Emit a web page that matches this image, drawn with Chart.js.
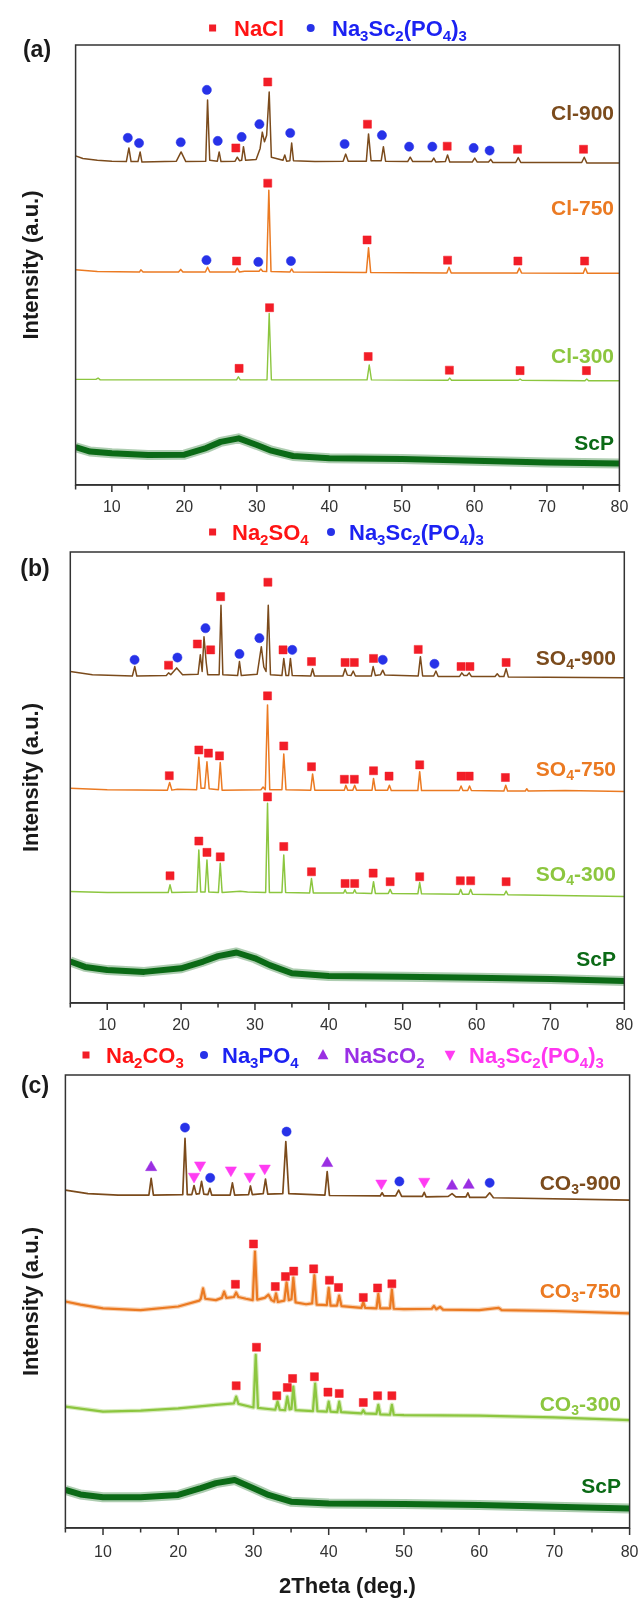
<!DOCTYPE html>
<html><head><meta charset="utf-8">
<script src="https://cdn.jsdelivr.net/npm/chart.js@4.4.1/dist/chart.umd.min.js"></script>
<style>
html,body{margin:0;padding:0;background:#fff;overflow:hidden;width:641px;height:1598px;position:relative;}
canvas{position:absolute;left:0;}
</style></head><body>
<canvas id="ca" width="641" height="520" style="top:0px"></canvas>
<canvas id="cb" width="641" height="520" style="top:520px"></canvas>
<canvas id="cc" width="641" height="558" style="top:1040px"></canvas>
<script>
// ---------- axis ----------
const X_MIN = 5, X_MAX = 80;
const X_TICK_LABELS = [10, 20, 30, 40, 50, 60, 70, 80];
const X_MINOR_TICKS = [5, 15, 25, 35, 45, 55, 65, 75];

// ---------- panel (a) : [2theta, intensity (a.u., stacked)] ----------
const cl900 = [[5,74.8],[6,74.2],[8,73.8],[10,73.6],[12.0,73.5],[12.35,76.6],[12.65,73.5],[13.6,73.5],[13.9,75.7],[14.15,73.4],[18.9,73.6],[19.55,75.7],[20.2,73.5],[22.95,73.6],[23.2,87.5],[23.5,73.8],[24.55,73.6],[24.8,75.7],[25.05,73.5],[27.0,73.6],[27.3,74.5],[27.6,73.7],[27.9,73.8],[28.15,76.9],[28.45,73.8],[29.9,74.0],[30.45,76.5],[30.75,80.2],[31.05,78.0],[31.35,79.5],[31.7,89.3],[32.0,74.5],[33.6,73.8],[33.85,75.0],[34.1,73.6],[34.55,73.7],[34.8,77.7],[35.05,73.7],[38,73.5],[41.9,73.6],[42.25,75.2],[42.6,73.6],[45.1,73.6],[45.4,79.8],[45.75,73.7],[47.15,73.7],[47.45,76.9],[47.75,73.6],[50.8,73.5],[51.15,74.5],[51.5,73.5],[54.1,73.5],[54.4,74.3],[54.7,73.4],[56.0,73.5],[56.3,75.0],[56.6,73.4],[59.7,73.4],[60.05,74.3],[60.4,73.4],[61.95,73.4],[62.25,74.0],[62.55,73.3],[65.7,73.3],[66.05,74.4],[66.4,73.3],[74.8,73.3],[75.15,74.5],[75.5,73.2],[80,73.2]];
const cl900_NaCl = [[27.1,76.6],[31.5,91.6],[45.25,82.0],[56.25,77.0],[65.95,76.3],[75.05,76.3]];
const cl900_NSP = [[12.2,78.9],[13.75,77.7],[19.5,77.9],[23.1,89.8],[24.6,78.2],[27.9,79.1],[30.35,82.0],[34.6,80.0],[42.1,77.5],[47.25,79.5],[51.0,76.9],[54.2,76.9],[59.9,76.6],[62.1,76.0]];

const cl750 = [[5,48.9],[8,48.5],[13.8,48.4],[14.0,48.9],[14.3,48.4],[19.2,48.4],[19.5,49.0],[19.8,48.4],[22.9,48.4],[23.2,49.5],[23.5,48.4],[27.0,48.4],[27.3,49.3],[27.6,48.4],[28.3,48.6],[30.3,48.6],[30.55,49.1],[30.8,48.6],[31.35,48.5],[31.65,67.0],[31.95,48.5],[34.55,48.4],[34.8,49.1],[35.05,48.4],[45.1,48.3],[45.4,53.9],[45.7,48.3],[56.2,48.2],[56.5,49.5],[56.8,48.2],[65.9,48.2],[66.2,49.3],[66.5,48.2],[75.0,48.1],[75.3,49.3],[75.6,48.1],[80,48.1]];
const cl750_NaCl = [[27.2,50.9],[31.5,68.6],[45.2,55.7],[56.3,51.1],[66.0,50.9],[75.2,50.9]];
const cl750_NSP = [[23.05,51.1],[30.2,50.7],[34.7,50.9]];

const cl300 = [[5,24.0],[7.8,24.0],[8.1,24.3],[8.4,23.9],[27.2,23.9],[27.45,24.6],[27.7,23.9],[31.4,23.9],[31.7,39.0],[32.0,23.9],[45.2,23.9],[45.5,27.3],[45.8,23.9],[56.35,23.8],[56.6,24.3],[56.85,23.8],[66.05,23.8],[66.3,24.1],[66.55,23.8],[75.25,23.7],[75.5,24.1],[75.75,23.7],[80,23.7]];
const cl300_NaCl = [[27.55,26.5],[31.75,40.3],[45.35,29.2],[56.55,26.1],[66.3,26.0],[75.45,26.0]];

const scpA = [[5,8.6],[7,7.6],[10,7.2],[15,6.8],[20,6.9],[23,8.4],[25,9.8],[27.5,10.6],[30,9.1],[32,7.8],[35,6.6],[40,6.1],[50,5.9],[60,5.5],[70,5.1],[80,4.9]];

// ---------- panel (b) ----------
const so900 = [[5,73.5],[8,72.8],[13.4,72.5],[13.73,74.6],[14.0,72.5],[18.0,72.6],[18.3,73.2],[18.6,72.8],[19.4,74.3],[20.2,72.8],[22.3,72.9],[22.6,77.2],[22.85,73.5],[23.1,81.2],[23.4,75.5],[23.6,72.8],[25.15,72.8],[25.4,88.2],[25.65,72.8],[27.65,72.6],[27.9,75.7],[28.15,72.6],[30.3,72.9],[30.86,79.0],[31.2,74.5],[31.5,73.5],[31.8,88.2],[32.1,72.8],[33.65,72.6],[33.9,76.4],[34.2,72.6],[34.55,72.6],[34.8,76.4],[35.05,72.6],[37.55,72.5],[37.8,74.1],[38.05,72.5],[41.9,72.5],[42.2,74.1],[42.5,72.7],[43.0,72.6],[43.3,73.6],[43.6,72.5],[45.75,72.5],[46.0,74.6],[46.3,72.6],[47.0,72.8],[47.3,73.8],[47.6,72.7],[52.1,72.5],[52.4,76.8],[52.7,72.5],[54.2,72.5],[54.5,73.6],[54.8,72.4],[57.7,72.4],[58.0,73.2],[58.3,72.6],[58.7,72.6],[59.0,73.2],[59.3,72.4],[62.5,72.4],[62.8,73.0],[63.1,72.4],[63.7,72.4],[64.0,74.1],[64.3,72.3],[80,72.1]];
const so900_Na2SO4 = [[18.3,74.9],[22.2,79.6],[24.0,78.3],[25.35,90.1],[31.75,93.3],[33.8,78.3],[37.65,75.7],[42.2,75.5],[43.45,75.5],[46.05,76.4],[52.1,78.4],[57.9,74.6],[59.1,74.6],[64.0,75.5]];
const so900_NSP = [[13.7,76.1],[19.5,76.6],[23.3,83.1],[27.9,77.4],[30.6,80.9],[35.05,78.3],[47.3,76.1],[54.3,75.2]];

const so750 = [[5,47.6],[10,47.3],[18.15,47.2],[18.45,48.9],[18.75,47.2],[19.5,47.4],[22.1,47.3],[22.4,54.5],[22.7,47.6],[23.2,47.6],[23.5,53.5],[23.8,47.5],[25.05,47.3],[25.3,53.3],[25.55,47.2],[30.8,47.3],[31.1,47.9],[31.4,47.3],[31.7,66.1],[32.0,47.3],[33.65,47.3],[33.9,55.2],[34.2,47.3],[37.55,47.2],[37.8,50.8],[38.1,47.2],[42.1,47.2],[42.3,48.3],[42.55,47.2],[43.25,47.2],[43.5,48.3],[43.75,47.2],[45.85,47.2],[46.05,49.8],[46.3,47.2],[47.95,47.2],[48.2,48.3],[48.45,47.1],[52.05,47.1],[52.3,51.3],[52.55,47.1],[57.65,47.1],[57.9,48.1],[58.15,47.1],[58.8,47.1],[59.05,48.1],[59.3,47.1],[63.7,47.0],[63.95,48.3],[64.2,47.0],[66.6,47.0],[66.8,47.5],[67.0,47.0],[72,47.1],[80,46.9]];
const so750_Na2SO4 = [[18.4,50.4],[22.4,56.1],[23.7,55.4],[25.2,54.8],[31.7,68.1],[33.9,57.0],[37.65,52.4],[42.1,49.6],[43.45,49.6],[46.05,51.5],[48.15,50.3],[52.3,52.8],[57.9,50.3],[59.0,50.3],[63.9,50.0]];

const so300 = [[5,24.7],[10,24.5],[18.25,24.5],[18.5,26.2],[18.75,24.5],[22.15,24.6],[22.4,33.9],[22.65,24.6],[23.25,24.6],[23.5,31.7],[23.75,24.6],[25.05,24.5],[25.3,31.0],[25.55,24.5],[28,24.8],[29,24.6],[31.45,24.5],[31.7,44.3],[31.95,24.5],[33.65,24.5],[33.9,32.8],[34.15,24.5],[37.4,24.4],[37.65,27.6],[37.9,24.4],[42.0,24.4],[42.2,25.1],[42.4,24.4],[43.3,24.4],[43.5,25.1],[43.7,24.4],[45.8,24.3],[46.05,26.9],[46.3,24.3],[48.05,24.3],[48.3,25.2],[48.55,24.3],[52.05,24.2],[52.3,26.7],[52.55,24.2],[57.6,24.1],[57.85,25.2],[58.1,24.1],[58.95,24.1],[59.2,25.2],[59.45,24.1],[63.75,24.0],[64.0,24.8],[64.25,24.0],[80,23.6]];
const so300_Na2SO4 = [[18.5,28.2],[22.4,35.9],[23.5,33.4],[25.3,32.4],[31.7,45.7],[33.9,34.7],[37.65,29.1],[42.2,26.5],[43.5,26.5],[46.0,28.8],[48.3,26.9],[52.3,28.0],[57.8,27.1],[59.2,27.1],[64.0,26.9]];

const scpB = [[5,9.2],[7,8.0],[10,7.3],[15,6.9],[20,7.7],[23,9.2],[25,10.4],[27.5,11.2],[30,9.9],[32,8.4],[35,6.6],[40,6.0],[50,5.8],[60,5.6],[70,5.3],[80,4.9]];

// ---------- panel (c) ----------
const co900 = [[5,74.6],[8,73.8],[12,73.5],[16.1,73.5],[16.4,77.2],[16.7,73.5],[20.6,73.6],[20.9,86.0],[21.2,73.6],[21.8,73.6],[22.1,75.6],[22.4,73.7],[22.8,73.8],[23.1,76.5],[23.4,73.7],[23.95,73.6],[24.2,75.0],[24.45,73.5],[26.9,73.5],[27.2,76.2],[27.5,73.5],[29.35,73.6],[29.6,75.5],[29.85,73.6],[31.3,73.8],[31.6,77.0],[31.9,73.7],[33.9,73.8],[34.3,85.3],[34.7,73.8],[39.5,73.5],[39.8,78.7],[40.1,73.4],[46.85,73.3],[47.1,74.0],[47.35,73.3],[48.9,73.3],[49.3,74.6],[49.7,73.2],[52.45,73.2],[52.7,74.1],[52.95,73.1],[55.9,73.2],[56.4,73.8],[56.9,73.1],[58.25,73.1],[58.5,74.0],[58.75,73.0],[60.9,73.0],[61.4,74.0],[61.9,72.9],[80,72.4]];
const co900_Na3PO4 = [[20.9,88.4],[24.25,77.3],[34.4,87.5],[49.4,76.5],[61.4,76.2]];
const co900_NaScO2 = [[16.4,79.6],[39.8,80.5],[56.4,75.5],[58.6,75.7]];
const co900_NSP = [[22.1,77.6],[22.9,80.1],[27.0,79.0],[29.5,77.6],[31.5,79.4],[47.0,76.1],[52.7,76.5]];

const co750 = [[5,50.0],[7,49.3],[10,48.5],[15,48.1],[20,48.9],[22.8,50.2],[23.0,50.6],[23.3,52.9],[23.6,50.6],[25,50.3],[25.8,50.8],[26.1,52.2],[26.4,50.8],[27.4,51.0],[27.7,52.0],[28.0,51.0],[29.0,50.6],[29.9,50.3],[30.2,61.0],[30.5,50.4],[31.5,50.8],[32.0,51.5],[32.4,50.3],[32.75,50.0],[33.0,51.8],[33.25,49.9],[34.1,50.2],[34.4,54.2],[34.7,50.3],[35.05,50.5],[35.3,55.3],[35.6,49.8],[37.0,49.4],[37.8,49.6],[38.1,55.8],[38.4,49.3],[39.75,49.2],[40.0,53.0],[40.25,49.1],[41.1,49.1],[41.4,51.3],[41.7,49.0],[44.35,48.6],[44.6,49.9],[44.85,48.6],[46.35,48.5],[46.6,51.7],[46.85,48.5],[48.15,48.5],[48.4,52.6],[48.65,48.4],[50,48.3],[53.7,48.4],[54.0,49.0],[54.3,48.3],[54.8,48.8],[55.2,48.2],[60,48.1],[62.6,48.6],[63,48.1],[70,47.9],[80,47.4]];
const co750_Na2CO3 = [[27.6,53.8],[30.0,62.7],[32.9,53.3],[34.25,55.5],[35.35,56.7],[38.0,57.2],[40.1,54.7],[41.3,53.1],[44.6,50.9],[46.5,53.0],[48.4,53.9]];

const co300 = [[5,26.8],[10,25.7],[15,25.9],[20,26.4],[25,27.2],[27.4,27.5],[27.7,29.0],[28.0,27.4],[30.0,26.6],[30.3,38.2],[30.6,26.5],[32.9,26.1],[33.2,27.9],[33.5,26.1],[34.2,26.0],[34.5,29.0],[34.8,26.2],[35.05,26.3],[35.3,31.2],[35.6,26.0],[37.9,25.8],[38.2,31.9],[38.5,25.8],[39.75,25.7],[40.0,27.9],[40.25,25.7],[41.15,25.6],[41.4,27.9],[41.65,25.6],[44.35,25.3],[44.6,26.0],[44.85,25.3],[46.35,25.2],[46.6,27.2],[46.85,25.1],[48.15,25.0],[48.4,27.2],[48.65,25.0],[50,24.9],[60,24.8],[70,24.4],[80,23.8]];
const co300_Na2CO3 = [[27.7,31.4],[30.4,39.9],[33.1,29.2],[34.5,31.0],[35.2,33.0],[38.1,33.4],[39.9,30.0],[41.4,29.7],[44.6,27.7],[46.5,29.2],[48.4,29.2]];

const scpC = [[5,8.4],[7,7.4],[10,6.8],[15,6.8],[20,7.3],[23,8.8],[25,9.9],[27.5,10.6],[30,8.8],[32,7.3],[35,5.8],[40,5.4],[50,5.3],[60,5.1],[70,4.7],[80,4.3]];

// ---------- styling ----------
const FONT = "'Liberation Sans', Arial, Helvetica, sans-serif";
const RED = '#f21d27', BLUE = '#2732e8', PURPLE = '#9a2fe2', MAGENTA = '#ff3cf2';
const RED_T = '#ff1414', BLUE_T = '#1c22f2', PURPLE_T = '#9a2fe6', MAGENTA_T = '#ff36f0';
const BROWN = '#7b4b1c', ORANGE = '#eb7a22', LGREEN = '#8cc63f', DGREEN = '#0b6a16';
const AXIS = '#333333';

function pts(a) { return a.map(p => ({x: p[0], y: p[1]})); }

function tokens(str) {
  const out = [];
  for (let i = 0; i < str.length; i++) {
    if (str[i] === '_') { out.push({t: str[i + 1], sub: true}); i++; }
    else {
      const last = out[out.length - 1];
      if (last && !last.sub) last.t += str[i]; else out.push({t: str[i], sub: false});
    }
  }
  return out;
}
function drawRich(ctx, str, x, y, size, color, align) {
  const tk = tokens(str);
  const subS = Math.round(size * 0.68);
  const fMain = 'bold ' + size + 'px ' + FONT, fSub = 'bold ' + subS + 'px ' + FONT;
  let w = 0;
  tk.forEach(t => { ctx.font = t.sub ? fSub : fMain; t.w = ctx.measureText(t.t).width; w += t.w; });
  let cx = align === 'right' ? x - w : (align === 'center' ? x - w / 2 : x);
  ctx.save();
  ctx.fillStyle = color; ctx.textBaseline = 'alphabetic'; ctx.textAlign = 'left';
  const base = y + size * 0.36;
  tk.forEach(t => { ctx.font = t.sub ? fSub : fMain; ctx.fillText(t.t, cx, t.sub ? base + size * 0.22 : base); cx += t.w; });
  ctx.restore();
}
function drawMarker(ctx, style, x, y, r, color) {
  ctx.save();
  ctx.fillStyle = color;
  ctx.beginPath();
  if (style === 'rect') { ctx.rect(x - r, y - r, 2 * r, 2 * r); }
  else if (style === 'circle') { ctx.arc(x, y, r, 0, Math.PI * 2); }
  else if (style === 'tri') { ctx.moveTo(x, y - r); ctx.lineTo(x + r * 0.9, y + r * 0.7); ctx.lineTo(x - r * 0.9, y + r * 0.7); ctx.closePath(); }
  else if (style === 'triDown') { ctx.moveTo(x, y + r); ctx.lineTo(x + r * 0.9, y - r * 0.7); ctx.lineTo(x - r * 0.9, y - r * 0.7); ctx.closePath(); }
  ctx.fill();
  ctx.restore();
}

function lineDs(data, color, width, order) {
  return {type: 'line', data: pts(data), borderColor: color, borderWidth: width, pointRadius: 0,
          tension: 0, fill: false, order: order || 2, borderJoinStyle: 'round'};
}
// noisy trace: a solid core plus a translucent halo for the ragged noise envelope
function noisyDs(data, color, core, halo) {
  return [lineDs(data, color, core, 2), lineDs(data, color + '55', halo, 3)];
}
function markDs(data, style, color, radius, rotation) {
  return {type: 'line', data: pts(data), showLine: false, pointStyle: style, pointRadius: radius,
          pointRotation: rotation || 0, pointBackgroundColor: color, pointBorderColor: color,
          pointBorderWidth: 0.5, order: 1};
}

function makePanel(id, cfg) {
  const canvas = document.getElementById(id);
  const W = canvas.width, H = canvas.height, A = cfg.area;
  const PADL = 21;
  const deco = {
    id: 'deco' + id,
    afterDraw(chart) {
      const ctx = chart.ctx, ca = chart.chartArea, xs = chart.scales.x;
      ctx.save();
      ctx.strokeStyle = AXIS; ctx.lineWidth = 1.5;
      ctx.strokeRect(ca.left, ca.top, ca.right - ca.left, ca.bottom - ca.top);
      // outward tick marks: long for labelled ticks, short for minor ones
      ctx.beginPath();
      X_TICK_LABELS.forEach(v => { const p = xs.getPixelForValue(v); ctx.moveTo(p, ca.bottom); ctx.lineTo(p, ca.bottom + 7); });
      X_MINOR_TICKS.forEach(v => { const p = xs.getPixelForValue(v); ctx.moveTo(p, ca.bottom); ctx.lineTo(p, ca.bottom + 4.5); });
      ctx.stroke();
      ctx.restore();
      cfg.legend.forEach(it => {
        drawMarker(ctx, it.style, it.mx, cfg.legendY, it.mr, it.mcolor);
        drawRich(ctx, it.text, it.tx, cfg.legendY, 22, it.tcolor, 'left');
      });
      ctx.save();
      ctx.font = 'bold 23px ' + FONT; ctx.fillStyle = '#1a1a1a';
      ctx.textAlign = 'center'; ctx.textBaseline = 'middle';
      ctx.fillText(cfg.letter, cfg.letterX, cfg.letterY);
      ctx.restore();
      cfg.labels.forEach(l => drawRich(ctx, l.text, cfg.labelRight, l.y, 21, l.color, 'right'));
    }
  };
  return new Chart(canvas, {
    type: 'line',
    data: {datasets: cfg.datasets},
    options: {
      responsive: false, animation: false, devicePixelRatio: 1,
      layout: {padding: {left: PADL, right: W - A.right, top: A.top, bottom: 0}},
      plugins: {legend: {display: false}, tooltip: {enabled: false}},
      scales: {
        x: {
          type: 'linear', min: X_MIN, max: X_MAX, position: 'bottom',
          afterFit(s) { s.height = H - A.bottom; s.paddingLeft = 0; s.paddingRight = 0; },
          afterBuildTicks(s) { s.ticks = X_TICK_LABELS.map(v => ({value: v})); },
          ticks: {autoSkip: false, maxRotation: 0, minRotation: 0, padding: cfg.tickPad, color: AXIS,
                  font: {family: FONT, size: 16}},
          grid: {drawOnChartArea: false, drawTicks: false},
          border: {display: true, color: AXIS, width: 1.5},
          title: cfg.xTitle ? {display: true, text: cfg.xTitle, color: '#1a1a1a', padding: 0,
                               font: {family: FONT, size: 22, weight: 'bold', lineHeight: 1}} : {display: false}
        },
        y: {
          type: 'linear', min: 0, max: 100, position: 'left',
          afterFit(s) { s.width = A.left - PADL; s.paddingTop = 0; s.paddingBottom = 0; },
          ticks: {display: false}, grid: {display: false}, border: {display: false},
          title: {display: true, text: 'Intensity (a.u.)', color: '#1a1a1a', padding: 0,
                  font: {family: FONT, size: 22, weight: 'bold', lineHeight: 1}}
        }
      }
    },
    plugins: [deco]
  });
}

makePanel('ca', {
  area: {left: 75.6, right: 619.4, top: 45, bottom: 485},
  tickPad: 13,
  legendY: 28,
  legend: [
    {style: 'rect', mx: 212.6, mr: 3.5, mcolor: RED, text: 'NaCl', tx: 234, tcolor: RED_T},
    {style: 'circle', mx: 310.7, mr: 4, mcolor: BLUE, text: 'Na_3Sc_2(PO_4)_3', tx: 332, tcolor: BLUE_T}
  ],
  letter: '(a)', letterX: 37, letterY: 51,
  labelRight: 614,
  labels: [
    {text: 'Cl-900', y: 112, color: BROWN}, {text: 'Cl-750', y: 207, color: ORANGE},
    {text: 'Cl-300', y: 355, color: LGREEN}, {text: 'ScP', y: 442, color: DGREEN}
  ],
  datasets: [
    markDs(cl900_NaCl, 'rect', RED, 5.7), markDs(cl900_NSP, 'circle', BLUE, 4.6),
    markDs(cl750_NaCl, 'rect', RED, 5.7), markDs(cl750_NSP, 'circle', BLUE, 4.6),
    markDs(cl300_NaCl, 'rect', RED, 5.7),
    lineDs(cl900, BROWN, 1.5), lineDs(cl750, ORANGE, 1.5), lineDs(cl300, LGREEN, 1.4),
    ...noisyDs(scpA, DGREEN, 6, 10)
  ]
});

makePanel('cb', {
  area: {left: 70.3, right: 624.3, top: 32, bottom: 483},
  tickPad: 13,
  legendY: 12,
  legend: [
    {style: 'rect', mx: 212.6, mr: 3.5, mcolor: RED, text: 'Na_2SO_4', tx: 232, tcolor: RED_T},
    {style: 'circle', mx: 331, mr: 4, mcolor: BLUE, text: 'Na_3Sc_2(PO_4)_3', tx: 349, tcolor: BLUE_T}
  ],
  letter: '(b)', letterX: 35, letterY: 50,
  labelRight: 616,
  labels: [
    {text: 'SO_4-900', y: 137, color: BROWN}, {text: 'SO_4-750', y: 248, color: ORANGE},
    {text: 'SO_4-300', y: 353, color: LGREEN}, {text: 'ScP', y: 438, color: DGREEN}
  ],
  datasets: [
    markDs(so900_Na2SO4, 'rect', RED, 5.7), markDs(so900_NSP, 'circle', BLUE, 4.6),
    markDs(so750_Na2SO4, 'rect', RED, 5.7), markDs(so300_Na2SO4, 'rect', RED, 5.7),
    lineDs(so900, BROWN, 1.5), lineDs(so750, ORANGE, 1.5), lineDs(so300, LGREEN, 1.5),
    ...noisyDs(scpB, DGREEN, 6, 10)
  ]
});

makePanel('cc', {
  area: {left: 65.4, right: 629.6, top: 35, bottom: 488},
  tickPad: 15,
  legendY: 15,
  legend: [
    {style: 'rect', mx: 86, mr: 3.5, mcolor: RED, text: 'Na_2CO_3', tx: 106, tcolor: RED_T},
    {style: 'circle', mx: 204, mr: 4, mcolor: BLUE, text: 'Na_3PO_4', tx: 222, tcolor: BLUE_T},
    {style: 'tri', mx: 323, mr: 6, mcolor: PURPLE, text: 'NaScO_2', tx: 344, tcolor: PURPLE_T},
    {style: 'triDown', mx: 450, mr: 6, mcolor: MAGENTA, text: 'Na_3Sc_2(PO_4)_3', tx: 469, tcolor: MAGENTA_T}
  ],
  letter: '(c)', letterX: 35, letterY: 47,
  labelRight: 621,
  labels: [
    {text: 'CO_3-900', y: 142, color: BROWN}, {text: 'CO_3-750', y: 250, color: ORANGE},
    {text: 'CO_3-300', y: 363, color: LGREEN}, {text: 'ScP', y: 445, color: DGREEN}
  ],
  xTitle: '2Theta (deg.)',
  datasets: [
    markDs(co900_Na3PO4, 'circle', BLUE, 4.6), markDs(co900_NaScO2, 'triangle', PURPLE, 6.5),
    markDs(co900_NSP, 'triangle', MAGENTA, 6.5, 180),
    markDs(co750_Na2CO3, 'rect', RED, 5.7), markDs(co300_Na2CO3, 'rect', RED, 5.7),
    lineDs(co900, BROWN, 1.7),
    ...noisyDs(co750, ORANGE, 2.2, 4.5), ...noisyDs(co300, LGREEN, 2.2, 4.5),
    ...noisyDs(scpC, DGREEN, 6, 10)
  ]
});
</script>
</body></html>
